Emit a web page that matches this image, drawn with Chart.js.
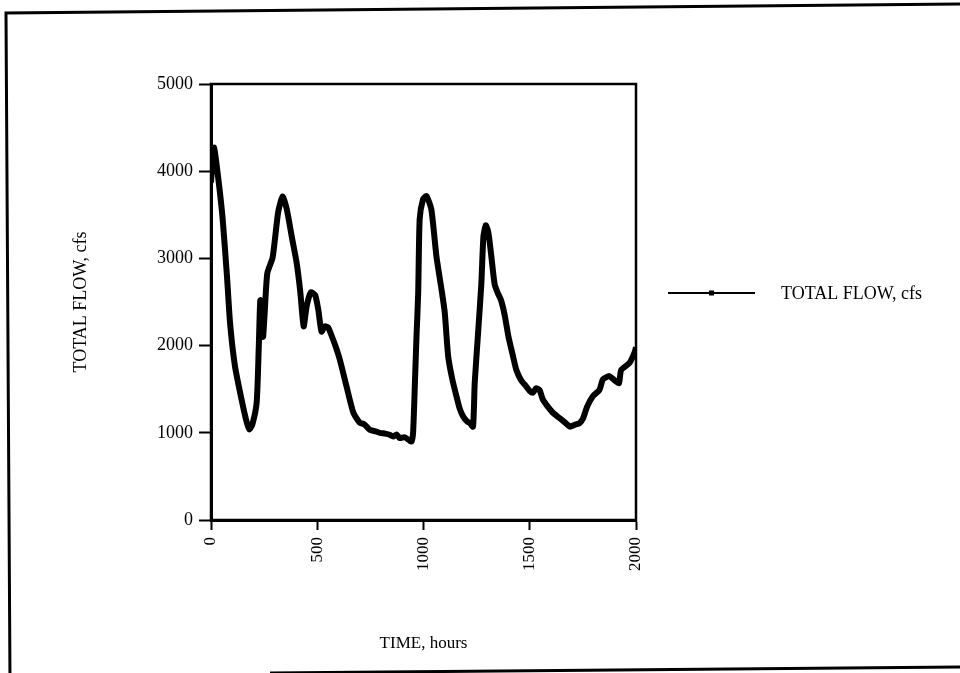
<!DOCTYPE html>
<html>
<head>
<meta charset="utf-8">
<script src="https://cdn.jsdelivr.net/npm/chart.js@4/dist/chart.umd.min.js"></script>
<style>
  html, body { margin: 0; padding: 0; background: #fff; }
  #wrap { width: 960px; height: 673px; position: relative; }
</style>
</head>
<body>
<div id="wrap"><canvas id="flow"></canvas></div>
<script>
// Values (hours, cfs).
const HOURS = [
    0, 8, 15, 25, 40, 55, 75, 90, 113, 144, 165, 180, 195, 215, 225, 232, 240, 245, 252, 265,
    290, 316, 337, 357, 380, 403, 420, 436, 450, 470, 490, 505, 520, 535, 551, 565, 585, 606, 638, 670,
    700, 720, 747, 770, 795, 820, 841, 857, 873, 888, 910, 930, 943, 951, 960, 967, 975, 982, 998, 1014,
    1037, 1061, 1085, 1100, 1116, 1135, 1155, 1170, 1186, 1205, 1217, 1233, 1241, 1257, 1272, 1282, 1293, 1305, 1318, 1335,
    1350, 1365, 1382, 1400, 1421, 1437, 1460, 1484, 1500, 1515, 1530, 1546, 1562, 1585, 1609, 1640, 1665, 1690, 1710, 1734,
    1750, 1770, 1797, 1828, 1844, 1875, 1900, 1920, 1930, 1969, 1993, 2000,
];
const TOTAL_FLOW = [
    3870, 4150, 4270, 4100, 3800, 3450, 2800, 2250, 1760, 1380, 1150, 1040, 1100, 1350, 2000, 2520, 2450, 2100, 2350, 2830,
    3010, 3530, 3710, 3560, 3250, 2950, 2620, 2220, 2450, 2610, 2580, 2410, 2160, 2220, 2210, 2130, 2000, 1840, 1530, 1230,
    1115, 1100, 1034, 1020, 1000, 990, 977, 957, 980, 940, 950, 920, 900, 1000, 1600, 2100, 2600, 3450, 3680, 3715,
    3560, 3020, 2640, 2380, 1880, 1620, 1420, 1280, 1190, 1130, 1115, 1070, 1570, 2150, 2700, 3250, 3380, 3300, 3050, 2700,
    2600, 2520, 2350, 2100, 1880, 1720, 1600, 1530, 1480, 1460, 1510, 1490, 1380, 1300, 1230, 1170, 1120, 1070, 1090, 1110,
    1160, 1300, 1420, 1490, 1610, 1650, 1600, 1570, 1720, 1800, 1920, 1980,
];
const X_TICKS = [0, 500, 1000, 1500, 2000];
const Y_TICKS = [0, 1000, 2000, 3000, 4000, 5000];
const SERIES_LABEL = 'TOTAL FLOW, cfs';
const X_TITLE = 'TIME, hours';
const Y_TITLE = 'TOTAL FLOW, cfs';

const SERIF = '"Liberation Serif", "Times New Roman", serif';

// Outer scanned frame, plot box and the right-hand legend.
const framePlugin = {
    id: 'frame',
    afterDraw(chart) {
        const ctx = chart.ctx;
        const a = chart.chartArea;
        ctx.save();
        ctx.strokeStyle = '#000';
        ctx.lineWidth = 3;
        ctx.beginPath();
        ctx.moveTo(10, 680);
        ctx.lineTo(6, 13);
        ctx.lineTo(965, 4);
        ctx.moveTo(270, 673);
        ctx.lineTo(965, 667);
        ctx.stroke();

        ctx.lineWidth = 2.5;
        ctx.strokeRect(a.left, a.top, a.right - a.left, a.bottom - a.top);

        // legend
        const ly = 293;
        ctx.lineWidth = 2;
        ctx.beginPath();
        ctx.moveTo(668, ly);
        ctx.lineTo(755, ly);
        ctx.stroke();
        ctx.fillStyle = '#000';
        ctx.fillRect(709, ly - 2.5, 5, 5);
        ctx.font = '18px ' + SERIF;
        ctx.textBaseline = 'middle';
        ctx.textAlign = 'left';
        ctx.fillText(chart.data.datasets[0].label, 781, ly + 1);
        ctx.restore();
    },
};

new Chart(document.getElementById('flow'), {
    type: 'line',
    data: {
        datasets: [{
            label: SERIES_LABEL,
            data: HOURS.map((h, i) => ({ x: h, y: TOTAL_FLOW[i] })),
            borderColor: '#000',
            backgroundColor: '#000',
            borderWidth: 6,
            pointRadius: 0,
            tension: 0.2,
        }],
    },
    options: {
        responsive: true,
        maintainAspectRatio: false,
        animation: false,
        layout: { padding: { top: 84, right: 324, left: 60, bottom: 10 } },
        plugins: { legend: { display: false }, tooltip: { enabled: false } },
        scales: {
            x: {
                type: 'linear',
                min: 0,
                max: 2000,
                afterBuildTicks(scale) { scale.ticks = X_TICKS.map((v) => ({ value: v })); },
                afterFit(scale) { scale.height = 143; },
                ticks: {
                    color: '#000',
                    font: { family: SERIF, size: 17 },
                    minRotation: 90,
                    maxRotation: 90,
                    padding: 7,
                    callback: (v) => String(v),
                },
                grid: { drawOnChartArea: false, tickLength: 10, tickWidth: 2, tickColor: '#000' },
                border: { color: '#000', width: 3 },
                title: {
                    display: true,
                    text: X_TITLE,
                    color: '#000',
                    font: { family: SERIF, size: 17 },
                    padding: { top: 0, bottom: 9 },
                },
            },
            y: {
                min: 0,
                max: 5000,
                afterBuildTicks(scale) { scale.ticks = Y_TICKS.map((v) => ({ value: v })); },
                afterFit(scale) { scale.width = 151; },
                ticks: {
                    color: '#000',
                    font: { family: SERIF, size: 18 },
                    padding: 6,
                    callback: (v) => String(v),
                },
                grid: { drawOnChartArea: false, tickLength: 12, tickWidth: 2, tickColor: '#000' },
                border: { color: '#000', width: 3 },
                title: {
                    display: true,
                    text: Y_TITLE,
                    color: '#000',
                    font: { family: SERIF, size: 18 },
                    padding: { top: 10, bottom: 0 },
                },
            },
        },
    },
    plugins: [framePlugin],
});
</script>
</body>
</html>
